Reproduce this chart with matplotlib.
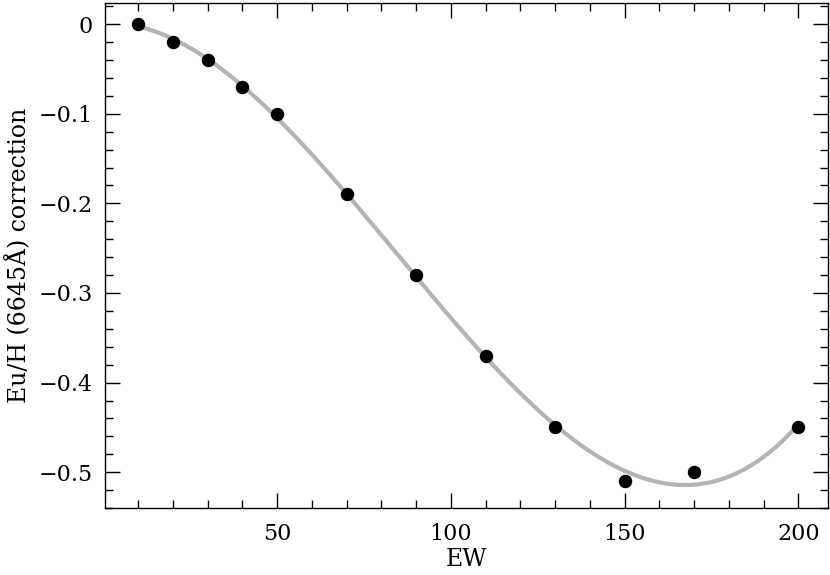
import numpy as np
import matplotlib
matplotlib.use('Agg')
import matplotlib.pyplot as plt
from matplotlib.ticker import MultipleLocator

# measured points
ew = [10, 20, 30, 40, 50, 70, 90, 110, 130, 150, 170, 200]
correction = [0.0, -0.02, -0.04, -0.07, -0.10, -0.19, -0.28, -0.37, -0.45, -0.51, -0.50, -0.45]

x_label = 'EW'
y_label = 'Eu/H (6645Å) correction'

plt.rcParams['font.family'] = ['DejaVu Serif']
plt.rcParams['axes.unicode_minus'] = True

fig = plt.figure(figsize=(8.3, 5.75), dpi=100)
ax = fig.add_axes([0.1265, 0.1165, 0.871, 0.878])

# smooth fit through the points (cubic)
coef = np.polyfit(ew, correction, 3)
xx = np.linspace(min(ew), max(ew), 300)
ax.plot(xx, np.polyval(coef, xx), color='#b4b4b4', lw=3, zorder=1)
ax.scatter(ew, correction, s=75, color='black', zorder=2)

ax.set_xlim(0.5, 208.5)
ax.set_ylim(-0.54, 0.0235)
ax.xaxis.set_major_locator(MultipleLocator(50))
ax.xaxis.set_minor_locator(MultipleLocator(10))
ax.yaxis.set_major_locator(MultipleLocator(0.1))
ax.yaxis.set_minor_locator(MultipleLocator(0.02))
ax.yaxis.set_major_formatter(plt.FuncFormatter(lambda v, p: '0' if abs(v) < 1e-9 else ('%g' % v).replace('-', '\u2212')))

ax.tick_params(which='both', direction='in', top=True, right=True, labelsize=16, color='black')
ax.tick_params(which='major', length=11, width=1)
ax.tick_params(which='minor', length=6, width=1)
ax.tick_params(axis='x', pad=11)
ax.tick_params(axis='y', pad=9)
for s in ax.spines.values():
    s.set_linewidth(1)

ax.set_xlabel(x_label, fontsize=17, labelpad=2)
ax.set_ylabel(y_label, fontsize=17, labelpad=5)

fig.savefig('out.png', dpi=100)
